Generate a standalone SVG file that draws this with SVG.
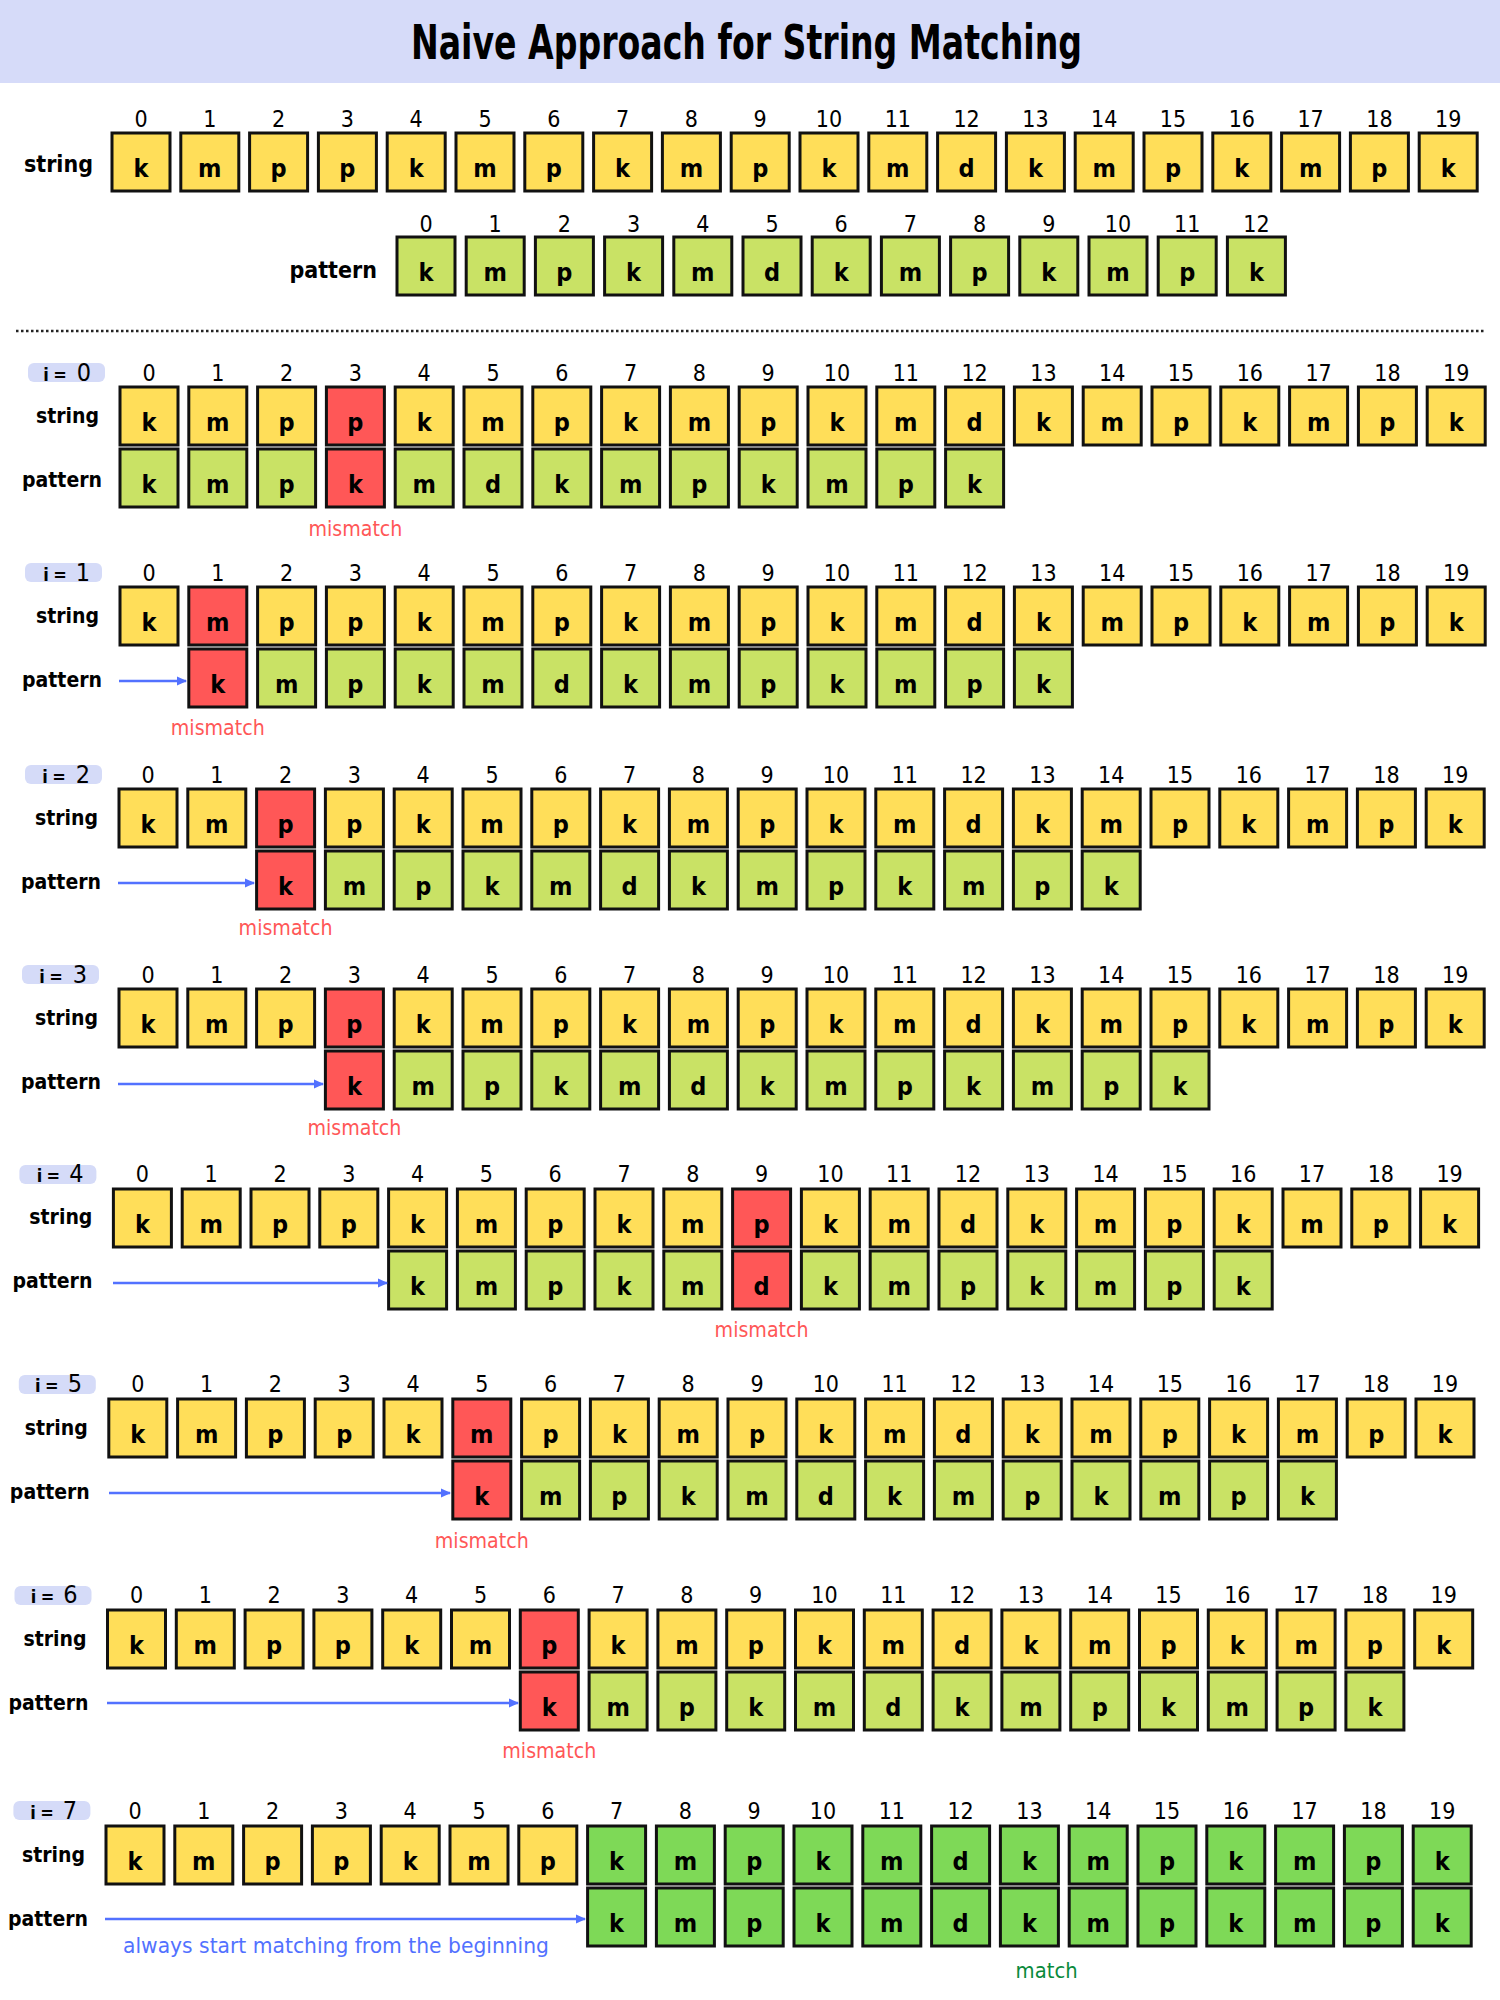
<svg xmlns="http://www.w3.org/2000/svg" width="1500" height="2000" viewBox="0 0 1500 2000">
<style>
text{font-family:"DejaVu Sans Condensed","DejaVu Sans",sans-serif;fill:#000}
.row rect{stroke:#111;stroke-width:3}
.y{fill:#ffde59}.l{fill:#c9e265}.r{fill:#ff5757}.g{fill:#7ed957}
.row text{font-weight:bold;font-size:25px;text-anchor:middle}
.n text{font-size:23px;text-anchor:middle}
.lb{font-weight:bold;font-size:21px;text-anchor:end}
.tlb{font-weight:bold;font-size:23px;text-anchor:end}
.mm{font-size:22px;text-anchor:middle;fill:#ff5757}
.hl{fill:#d5dbf8}
.il{text-anchor:middle}
.ib{font-size:18px;font-weight:bold}
.id{font-size:25px}
.arr{stroke:#5271ff;stroke-width:2.5;fill:none}
</style>
<defs>
<marker id="ah" markerUnits="userSpaceOnUse" markerWidth="10" markerHeight="10" refX="9" refY="5" orient="auto"><path d="M0,0.5 L10,5 L0,9.5 z" fill="#5271ff"/></marker>
</defs>
<rect x="0" y="0" width="1500" height="2000" fill="#ffffff"/>
<g id="title">
<rect x="0" y="0" width="1500" height="83" fill="#d6dbf9"/>
<text x="746.5" y="59" font-size="48" font-weight="bold" text-anchor="middle" textLength="671" lengthAdjust="spacingAndGlyphs">Naive Approach for String Matching</text>
</g>

<g id="top-string" transform="translate(112,118)">
<text class="tlb" x="-19" y="54">string</text>
<g class="n"><text x="29" y="9">0</text><text x="97.8" y="9">1</text><text x="166.6" y="9">2</text><text x="235.4" y="9">3</text><text x="304.2" y="9">4</text><text x="373" y="9">5</text><text x="441.8" y="9">6</text><text x="510.6" y="9">7</text><text x="579.4" y="9">8</text><text x="648.2" y="9">9</text><text x="717" y="9">10</text><text x="785.8" y="9">11</text><text x="854.6" y="9">12</text><text x="923.4" y="9">13</text><text x="992.2" y="9">14</text><text x="1061" y="9">15</text><text x="1129.8" y="9">16</text><text x="1198.6" y="9">17</text><text x="1267.4" y="9">18</text><text x="1336.2" y="9">19</text></g>
<g class="row">
<g id="ts-0"><rect class="y" x="0" y="15" width="58" height="58"/><text x="29" y="59">k</text></g>
<g id="ts-1"><rect class="y" x="68.8" y="15" width="58" height="58"/><text x="97.8" y="59">m</text></g>
<g id="ts-2"><rect class="y" x="137.6" y="15" width="58" height="58"/><text x="166.6" y="59">p</text></g>
<g id="ts-3"><rect class="y" x="206.4" y="15" width="58" height="58"/><text x="235.4" y="59">p</text></g>
<g id="ts-4"><rect class="y" x="275.2" y="15" width="58" height="58"/><text x="304.2" y="59">k</text></g>
<g id="ts-5"><rect class="y" x="344" y="15" width="58" height="58"/><text x="373" y="59">m</text></g>
<g id="ts-6"><rect class="y" x="412.8" y="15" width="58" height="58"/><text x="441.8" y="59">p</text></g>
<g id="ts-7"><rect class="y" x="481.6" y="15" width="58" height="58"/><text x="510.6" y="59">k</text></g>
<g id="ts-8"><rect class="y" x="550.4" y="15" width="58" height="58"/><text x="579.4" y="59">m</text></g>
<g id="ts-9"><rect class="y" x="619.2" y="15" width="58" height="58"/><text x="648.2" y="59">p</text></g>
<g id="ts-10"><rect class="y" x="688" y="15" width="58" height="58"/><text x="717" y="59">k</text></g>
<g id="ts-11"><rect class="y" x="756.8" y="15" width="58" height="58"/><text x="785.8" y="59">m</text></g>
<g id="ts-12"><rect class="y" x="825.6" y="15" width="58" height="58"/><text x="854.6" y="59">d</text></g>
<g id="ts-13"><rect class="y" x="894.4" y="15" width="58" height="58"/><text x="923.4" y="59">k</text></g>
<g id="ts-14"><rect class="y" x="963.2" y="15" width="58" height="58"/><text x="992.2" y="59">m</text></g>
<g id="ts-15"><rect class="y" x="1032" y="15" width="58" height="58"/><text x="1061" y="59">p</text></g>
<g id="ts-16"><rect class="y" x="1100.8" y="15" width="58" height="58"/><text x="1129.8" y="59">k</text></g>
<g id="ts-17"><rect class="y" x="1169.6" y="15" width="58" height="58"/><text x="1198.6" y="59">m</text></g>
<g id="ts-18"><rect class="y" x="1238.4" y="15" width="58" height="58"/><text x="1267.4" y="59">p</text></g>
<g id="ts-19"><rect class="y" x="1307.2" y="15" width="58" height="58"/><text x="1336.2" y="59">k</text></g>
</g>
</g>

<g id="top-pattern" transform="translate(397,223)">
<text class="tlb" x="-20" y="55">pattern</text>
<g class="n"><text x="29" y="9">0</text><text x="98.2" y="9">1</text><text x="167.4" y="9">2</text><text x="236.6" y="9">3</text><text x="305.8" y="9">4</text><text x="375" y="9">5</text><text x="444.2" y="9">6</text><text x="513.4" y="9">7</text><text x="582.6" y="9">8</text><text x="651.8" y="9">9</text><text x="721" y="9">10</text><text x="790.2" y="9">11</text><text x="859.4" y="9">12</text></g>
<g class="row">
<g id="tp-0"><rect class="l" x="0" y="14" width="58" height="58"/><text x="29" y="58">k</text></g>
<g id="tp-1"><rect class="l" x="69.2" y="14" width="58" height="58"/><text x="98.2" y="58">m</text></g>
<g id="tp-2"><rect class="l" x="138.4" y="14" width="58" height="58"/><text x="167.4" y="58">p</text></g>
<g id="tp-3"><rect class="l" x="207.6" y="14" width="58" height="58"/><text x="236.6" y="58">k</text></g>
<g id="tp-4"><rect class="l" x="276.8" y="14" width="58" height="58"/><text x="305.8" y="58">m</text></g>
<g id="tp-5"><rect class="l" x="346" y="14" width="58" height="58"/><text x="375" y="58">d</text></g>
<g id="tp-6"><rect class="l" x="415.2" y="14" width="58" height="58"/><text x="444.2" y="58">k</text></g>
<g id="tp-7"><rect class="l" x="484.4" y="14" width="58" height="58"/><text x="513.4" y="58">m</text></g>
<g id="tp-8"><rect class="l" x="553.6" y="14" width="58" height="58"/><text x="582.6" y="58">p</text></g>
<g id="tp-9"><rect class="l" x="622.8" y="14" width="58" height="58"/><text x="651.8" y="58">k</text></g>
<g id="tp-10"><rect class="l" x="692" y="14" width="58" height="58"/><text x="721" y="58">m</text></g>
<g id="tp-11"><rect class="l" x="761.2" y="14" width="58" height="58"/><text x="790.2" y="58">p</text></g>
<g id="tp-12"><rect class="l" x="830.4" y="14" width="58" height="58"/><text x="859.4" y="58">k</text></g>
</g>
</g>

<line id="divider" x1="16" y1="331" x2="1484" y2="331" stroke="#222" stroke-width="2.5" stroke-dasharray="2.5 2.5"/>

<!-- step 0 -->
<g id="step0" transform="translate(120,372)">
<rect class="hl" x="-92" y="-9" width="77" height="19" rx="6"/>
<text class="il" y="9"><tspan class="ib" x="-74">i</tspan><tspan class="ib" x="-60">=</tspan><tspan class="id" x="-36">0</tspan></text>
<text class="lb" x="-21" y="51">string</text>
<text class="lb" x="-18" y="115">pattern</text>
<g class="n"><text x="29" y="9">0</text><text x="97.8" y="9">1</text><text x="166.6" y="9">2</text><text x="235.4" y="9">3</text><text x="304.2" y="9">4</text><text x="373" y="9">5</text><text x="441.8" y="9">6</text><text x="510.6" y="9">7</text><text x="579.4" y="9">8</text><text x="648.2" y="9">9</text><text x="717" y="9">10</text><text x="785.8" y="9">11</text><text x="854.6" y="9">12</text><text x="923.4" y="9">13</text><text x="992.2" y="9">14</text><text x="1061" y="9">15</text><text x="1129.8" y="9">16</text><text x="1198.6" y="9">17</text><text x="1267.4" y="9">18</text><text x="1336.2" y="9">19</text></g>
<g class="row" id="step0-string">
<g id="s0-0"><rect class="y" x="0" y="15" width="58" height="58"/><text x="29" y="59">k</text></g>
<g id="s0-1"><rect class="y" x="68.8" y="15" width="58" height="58"/><text x="97.8" y="59">m</text></g>
<g id="s0-2"><rect class="y" x="137.6" y="15" width="58" height="58"/><text x="166.6" y="59">p</text></g>
<g id="s0-3"><rect class="r" x="206.4" y="15" width="58" height="58"/><text x="235.4" y="59">p</text></g>
<g id="s0-4"><rect class="y" x="275.2" y="15" width="58" height="58"/><text x="304.2" y="59">k</text></g>
<g id="s0-5"><rect class="y" x="344" y="15" width="58" height="58"/><text x="373" y="59">m</text></g>
<g id="s0-6"><rect class="y" x="412.8" y="15" width="58" height="58"/><text x="441.8" y="59">p</text></g>
<g id="s0-7"><rect class="y" x="481.6" y="15" width="58" height="58"/><text x="510.6" y="59">k</text></g>
<g id="s0-8"><rect class="y" x="550.4" y="15" width="58" height="58"/><text x="579.4" y="59">m</text></g>
<g id="s0-9"><rect class="y" x="619.2" y="15" width="58" height="58"/><text x="648.2" y="59">p</text></g>
<g id="s0-10"><rect class="y" x="688" y="15" width="58" height="58"/><text x="717" y="59">k</text></g>
<g id="s0-11"><rect class="y" x="756.8" y="15" width="58" height="58"/><text x="785.8" y="59">m</text></g>
<g id="s0-12"><rect class="y" x="825.6" y="15" width="58" height="58"/><text x="854.6" y="59">d</text></g>
<g id="s0-13"><rect class="y" x="894.4" y="15" width="58" height="58"/><text x="923.4" y="59">k</text></g>
<g id="s0-14"><rect class="y" x="963.2" y="15" width="58" height="58"/><text x="992.2" y="59">m</text></g>
<g id="s0-15"><rect class="y" x="1032" y="15" width="58" height="58"/><text x="1061" y="59">p</text></g>
<g id="s0-16"><rect class="y" x="1100.8" y="15" width="58" height="58"/><text x="1129.8" y="59">k</text></g>
<g id="s0-17"><rect class="y" x="1169.6" y="15" width="58" height="58"/><text x="1198.6" y="59">m</text></g>
<g id="s0-18"><rect class="y" x="1238.4" y="15" width="58" height="58"/><text x="1267.4" y="59">p</text></g>
<g id="s0-19"><rect class="y" x="1307.2" y="15" width="58" height="58"/><text x="1336.2" y="59">k</text></g>
</g>
<g class="row" id="step0-pattern">
<g id="p0-0"><rect class="l" x="0" y="77" width="58" height="58"/><text x="29" y="121">k</text></g>
<g id="p0-1"><rect class="l" x="68.8" y="77" width="58" height="58"/><text x="97.8" y="121">m</text></g>
<g id="p0-2"><rect class="l" x="137.6" y="77" width="58" height="58"/><text x="166.6" y="121">p</text></g>
<g id="p0-3"><rect class="r" x="206.4" y="77" width="58" height="58"/><text x="235.4" y="121">k</text></g>
<g id="p0-4"><rect class="l" x="275.2" y="77" width="58" height="58"/><text x="304.2" y="121">m</text></g>
<g id="p0-5"><rect class="l" x="344" y="77" width="58" height="58"/><text x="373" y="121">d</text></g>
<g id="p0-6"><rect class="l" x="412.8" y="77" width="58" height="58"/><text x="441.8" y="121">k</text></g>
<g id="p0-7"><rect class="l" x="481.6" y="77" width="58" height="58"/><text x="510.6" y="121">m</text></g>
<g id="p0-8"><rect class="l" x="550.4" y="77" width="58" height="58"/><text x="579.4" y="121">p</text></g>
<g id="p0-9"><rect class="l" x="619.2" y="77" width="58" height="58"/><text x="648.2" y="121">k</text></g>
<g id="p0-10"><rect class="l" x="688" y="77" width="58" height="58"/><text x="717" y="121">m</text></g>
<g id="p0-11"><rect class="l" x="756.8" y="77" width="58" height="58"/><text x="785.8" y="121">p</text></g>
<g id="p0-12"><rect class="l" x="825.6" y="77" width="58" height="58"/><text x="854.6" y="121">k</text></g>
</g>
<text class="mm" x="235.4" y="164" textLength="94" lengthAdjust="spacingAndGlyphs">mismatch</text>
</g>

<!-- step 1 -->
<g id="step1" transform="translate(120,572)">
<rect class="hl" x="-95" y="-9" width="77" height="19" rx="6"/>
<text class="il" y="9"><tspan class="ib" x="-74">i</tspan><tspan class="ib" x="-60">=</tspan><tspan class="id" x="-37">1</tspan></text>
<text class="lb" x="-21" y="51">string</text>
<text class="lb" x="-18" y="115">pattern</text>
<g class="n"><text x="29" y="9">0</text><text x="97.8" y="9">1</text><text x="166.6" y="9">2</text><text x="235.4" y="9">3</text><text x="304.2" y="9">4</text><text x="373" y="9">5</text><text x="441.8" y="9">6</text><text x="510.6" y="9">7</text><text x="579.4" y="9">8</text><text x="648.2" y="9">9</text><text x="717" y="9">10</text><text x="785.8" y="9">11</text><text x="854.6" y="9">12</text><text x="923.4" y="9">13</text><text x="992.2" y="9">14</text><text x="1061" y="9">15</text><text x="1129.8" y="9">16</text><text x="1198.6" y="9">17</text><text x="1267.4" y="9">18</text><text x="1336.2" y="9">19</text></g>
<g class="row" id="step1-string">
<g id="s1-0"><rect class="y" x="0" y="15" width="58" height="58"/><text x="29" y="59">k</text></g>
<g id="s1-1"><rect class="r" x="68.8" y="15" width="58" height="58"/><text x="97.8" y="59">m</text></g>
<g id="s1-2"><rect class="y" x="137.6" y="15" width="58" height="58"/><text x="166.6" y="59">p</text></g>
<g id="s1-3"><rect class="y" x="206.4" y="15" width="58" height="58"/><text x="235.4" y="59">p</text></g>
<g id="s1-4"><rect class="y" x="275.2" y="15" width="58" height="58"/><text x="304.2" y="59">k</text></g>
<g id="s1-5"><rect class="y" x="344" y="15" width="58" height="58"/><text x="373" y="59">m</text></g>
<g id="s1-6"><rect class="y" x="412.8" y="15" width="58" height="58"/><text x="441.8" y="59">p</text></g>
<g id="s1-7"><rect class="y" x="481.6" y="15" width="58" height="58"/><text x="510.6" y="59">k</text></g>
<g id="s1-8"><rect class="y" x="550.4" y="15" width="58" height="58"/><text x="579.4" y="59">m</text></g>
<g id="s1-9"><rect class="y" x="619.2" y="15" width="58" height="58"/><text x="648.2" y="59">p</text></g>
<g id="s1-10"><rect class="y" x="688" y="15" width="58" height="58"/><text x="717" y="59">k</text></g>
<g id="s1-11"><rect class="y" x="756.8" y="15" width="58" height="58"/><text x="785.8" y="59">m</text></g>
<g id="s1-12"><rect class="y" x="825.6" y="15" width="58" height="58"/><text x="854.6" y="59">d</text></g>
<g id="s1-13"><rect class="y" x="894.4" y="15" width="58" height="58"/><text x="923.4" y="59">k</text></g>
<g id="s1-14"><rect class="y" x="963.2" y="15" width="58" height="58"/><text x="992.2" y="59">m</text></g>
<g id="s1-15"><rect class="y" x="1032" y="15" width="58" height="58"/><text x="1061" y="59">p</text></g>
<g id="s1-16"><rect class="y" x="1100.8" y="15" width="58" height="58"/><text x="1129.8" y="59">k</text></g>
<g id="s1-17"><rect class="y" x="1169.6" y="15" width="58" height="58"/><text x="1198.6" y="59">m</text></g>
<g id="s1-18"><rect class="y" x="1238.4" y="15" width="58" height="58"/><text x="1267.4" y="59">p</text></g>
<g id="s1-19"><rect class="y" x="1307.2" y="15" width="58" height="58"/><text x="1336.2" y="59">k</text></g>
</g>
<g class="row" id="step1-pattern">
<g id="p1-1"><rect class="r" x="68.8" y="77" width="58" height="58"/><text x="97.8" y="121">k</text></g>
<g id="p1-2"><rect class="l" x="137.6" y="77" width="58" height="58"/><text x="166.6" y="121">m</text></g>
<g id="p1-3"><rect class="l" x="206.4" y="77" width="58" height="58"/><text x="235.4" y="121">p</text></g>
<g id="p1-4"><rect class="l" x="275.2" y="77" width="58" height="58"/><text x="304.2" y="121">k</text></g>
<g id="p1-5"><rect class="l" x="344" y="77" width="58" height="58"/><text x="373" y="121">m</text></g>
<g id="p1-6"><rect class="l" x="412.8" y="77" width="58" height="58"/><text x="441.8" y="121">d</text></g>
<g id="p1-7"><rect class="l" x="481.6" y="77" width="58" height="58"/><text x="510.6" y="121">k</text></g>
<g id="p1-8"><rect class="l" x="550.4" y="77" width="58" height="58"/><text x="579.4" y="121">m</text></g>
<g id="p1-9"><rect class="l" x="619.2" y="77" width="58" height="58"/><text x="648.2" y="121">p</text></g>
<g id="p1-10"><rect class="l" x="688" y="77" width="58" height="58"/><text x="717" y="121">k</text></g>
<g id="p1-11"><rect class="l" x="756.8" y="77" width="58" height="58"/><text x="785.8" y="121">m</text></g>
<g id="p1-12"><rect class="l" x="825.6" y="77" width="58" height="58"/><text x="854.6" y="121">p</text></g>
<g id="p1-13"><rect class="l" x="894.4" y="77" width="58" height="58"/><text x="923.4" y="121">k</text></g>
</g>
<text class="mm" x="97.8" y="163" textLength="94" lengthAdjust="spacingAndGlyphs">mismatch</text>
</g>

<!-- step 2 -->
<g id="step2" transform="translate(119,774)">
<rect class="hl" x="-94" y="-9" width="77" height="19" rx="6"/>
<text class="il" y="9"><tspan class="ib" x="-74">i</tspan><tspan class="ib" x="-60">=</tspan><tspan class="id" x="-36">2</tspan></text>
<text class="lb" x="-21" y="51">string</text>
<text class="lb" x="-18" y="115">pattern</text>
<g class="n"><text x="29" y="9">0</text><text x="97.8" y="9">1</text><text x="166.6" y="9">2</text><text x="235.4" y="9">3</text><text x="304.2" y="9">4</text><text x="373" y="9">5</text><text x="441.8" y="9">6</text><text x="510.6" y="9">7</text><text x="579.4" y="9">8</text><text x="648.2" y="9">9</text><text x="717" y="9">10</text><text x="785.8" y="9">11</text><text x="854.6" y="9">12</text><text x="923.4" y="9">13</text><text x="992.2" y="9">14</text><text x="1061" y="9">15</text><text x="1129.8" y="9">16</text><text x="1198.6" y="9">17</text><text x="1267.4" y="9">18</text><text x="1336.2" y="9">19</text></g>
<g class="row" id="step2-string">
<g id="s2-0"><rect class="y" x="0" y="15" width="58" height="58"/><text x="29" y="59">k</text></g>
<g id="s2-1"><rect class="y" x="68.8" y="15" width="58" height="58"/><text x="97.8" y="59">m</text></g>
<g id="s2-2"><rect class="r" x="137.6" y="15" width="58" height="58"/><text x="166.6" y="59">p</text></g>
<g id="s2-3"><rect class="y" x="206.4" y="15" width="58" height="58"/><text x="235.4" y="59">p</text></g>
<g id="s2-4"><rect class="y" x="275.2" y="15" width="58" height="58"/><text x="304.2" y="59">k</text></g>
<g id="s2-5"><rect class="y" x="344" y="15" width="58" height="58"/><text x="373" y="59">m</text></g>
<g id="s2-6"><rect class="y" x="412.8" y="15" width="58" height="58"/><text x="441.8" y="59">p</text></g>
<g id="s2-7"><rect class="y" x="481.6" y="15" width="58" height="58"/><text x="510.6" y="59">k</text></g>
<g id="s2-8"><rect class="y" x="550.4" y="15" width="58" height="58"/><text x="579.4" y="59">m</text></g>
<g id="s2-9"><rect class="y" x="619.2" y="15" width="58" height="58"/><text x="648.2" y="59">p</text></g>
<g id="s2-10"><rect class="y" x="688" y="15" width="58" height="58"/><text x="717" y="59">k</text></g>
<g id="s2-11"><rect class="y" x="756.8" y="15" width="58" height="58"/><text x="785.8" y="59">m</text></g>
<g id="s2-12"><rect class="y" x="825.6" y="15" width="58" height="58"/><text x="854.6" y="59">d</text></g>
<g id="s2-13"><rect class="y" x="894.4" y="15" width="58" height="58"/><text x="923.4" y="59">k</text></g>
<g id="s2-14"><rect class="y" x="963.2" y="15" width="58" height="58"/><text x="992.2" y="59">m</text></g>
<g id="s2-15"><rect class="y" x="1032" y="15" width="58" height="58"/><text x="1061" y="59">p</text></g>
<g id="s2-16"><rect class="y" x="1100.8" y="15" width="58" height="58"/><text x="1129.8" y="59">k</text></g>
<g id="s2-17"><rect class="y" x="1169.6" y="15" width="58" height="58"/><text x="1198.6" y="59">m</text></g>
<g id="s2-18"><rect class="y" x="1238.4" y="15" width="58" height="58"/><text x="1267.4" y="59">p</text></g>
<g id="s2-19"><rect class="y" x="1307.2" y="15" width="58" height="58"/><text x="1336.2" y="59">k</text></g>
</g>
<g class="row" id="step2-pattern">
<g id="p2-2"><rect class="r" x="137.6" y="77" width="58" height="58"/><text x="166.6" y="121">k</text></g>
<g id="p2-3"><rect class="l" x="206.4" y="77" width="58" height="58"/><text x="235.4" y="121">m</text></g>
<g id="p2-4"><rect class="l" x="275.2" y="77" width="58" height="58"/><text x="304.2" y="121">p</text></g>
<g id="p2-5"><rect class="l" x="344" y="77" width="58" height="58"/><text x="373" y="121">k</text></g>
<g id="p2-6"><rect class="l" x="412.8" y="77" width="58" height="58"/><text x="441.8" y="121">m</text></g>
<g id="p2-7"><rect class="l" x="481.6" y="77" width="58" height="58"/><text x="510.6" y="121">d</text></g>
<g id="p2-8"><rect class="l" x="550.4" y="77" width="58" height="58"/><text x="579.4" y="121">k</text></g>
<g id="p2-9"><rect class="l" x="619.2" y="77" width="58" height="58"/><text x="648.2" y="121">m</text></g>
<g id="p2-10"><rect class="l" x="688" y="77" width="58" height="58"/><text x="717" y="121">p</text></g>
<g id="p2-11"><rect class="l" x="756.8" y="77" width="58" height="58"/><text x="785.8" y="121">k</text></g>
<g id="p2-12"><rect class="l" x="825.6" y="77" width="58" height="58"/><text x="854.6" y="121">m</text></g>
<g id="p2-13"><rect class="l" x="894.4" y="77" width="58" height="58"/><text x="923.4" y="121">p</text></g>
<g id="p2-14"><rect class="l" x="963.2" y="77" width="58" height="58"/><text x="992.2" y="121">k</text></g>
</g>
<text class="mm" x="166.6" y="161" textLength="94" lengthAdjust="spacingAndGlyphs">mismatch</text>
</g>

<!-- step 3 -->
<g id="step3" transform="translate(119,974)">
<rect class="hl" x="-97" y="-9" width="77" height="19" rx="6"/>
<text class="il" y="9"><tspan class="ib" x="-77">i</tspan><tspan class="ib" x="-63">=</tspan><tspan class="id" x="-39">3</tspan></text>
<text class="lb" x="-21" y="51">string</text>
<text class="lb" x="-18" y="115">pattern</text>
<g class="n"><text x="29" y="9">0</text><text x="97.8" y="9">1</text><text x="166.6" y="9">2</text><text x="235.4" y="9">3</text><text x="304.2" y="9">4</text><text x="373" y="9">5</text><text x="441.8" y="9">6</text><text x="510.6" y="9">7</text><text x="579.4" y="9">8</text><text x="648.2" y="9">9</text><text x="717" y="9">10</text><text x="785.8" y="9">11</text><text x="854.6" y="9">12</text><text x="923.4" y="9">13</text><text x="992.2" y="9">14</text><text x="1061" y="9">15</text><text x="1129.8" y="9">16</text><text x="1198.6" y="9">17</text><text x="1267.4" y="9">18</text><text x="1336.2" y="9">19</text></g>
<g class="row" id="step3-string">
<g id="s3-0"><rect class="y" x="0" y="15" width="58" height="58"/><text x="29" y="59">k</text></g>
<g id="s3-1"><rect class="y" x="68.8" y="15" width="58" height="58"/><text x="97.8" y="59">m</text></g>
<g id="s3-2"><rect class="y" x="137.6" y="15" width="58" height="58"/><text x="166.6" y="59">p</text></g>
<g id="s3-3"><rect class="r" x="206.4" y="15" width="58" height="58"/><text x="235.4" y="59">p</text></g>
<g id="s3-4"><rect class="y" x="275.2" y="15" width="58" height="58"/><text x="304.2" y="59">k</text></g>
<g id="s3-5"><rect class="y" x="344" y="15" width="58" height="58"/><text x="373" y="59">m</text></g>
<g id="s3-6"><rect class="y" x="412.8" y="15" width="58" height="58"/><text x="441.8" y="59">p</text></g>
<g id="s3-7"><rect class="y" x="481.6" y="15" width="58" height="58"/><text x="510.6" y="59">k</text></g>
<g id="s3-8"><rect class="y" x="550.4" y="15" width="58" height="58"/><text x="579.4" y="59">m</text></g>
<g id="s3-9"><rect class="y" x="619.2" y="15" width="58" height="58"/><text x="648.2" y="59">p</text></g>
<g id="s3-10"><rect class="y" x="688" y="15" width="58" height="58"/><text x="717" y="59">k</text></g>
<g id="s3-11"><rect class="y" x="756.8" y="15" width="58" height="58"/><text x="785.8" y="59">m</text></g>
<g id="s3-12"><rect class="y" x="825.6" y="15" width="58" height="58"/><text x="854.6" y="59">d</text></g>
<g id="s3-13"><rect class="y" x="894.4" y="15" width="58" height="58"/><text x="923.4" y="59">k</text></g>
<g id="s3-14"><rect class="y" x="963.2" y="15" width="58" height="58"/><text x="992.2" y="59">m</text></g>
<g id="s3-15"><rect class="y" x="1032" y="15" width="58" height="58"/><text x="1061" y="59">p</text></g>
<g id="s3-16"><rect class="y" x="1100.8" y="15" width="58" height="58"/><text x="1129.8" y="59">k</text></g>
<g id="s3-17"><rect class="y" x="1169.6" y="15" width="58" height="58"/><text x="1198.6" y="59">m</text></g>
<g id="s3-18"><rect class="y" x="1238.4" y="15" width="58" height="58"/><text x="1267.4" y="59">p</text></g>
<g id="s3-19"><rect class="y" x="1307.2" y="15" width="58" height="58"/><text x="1336.2" y="59">k</text></g>
</g>
<g class="row" id="step3-pattern">
<g id="p3-3"><rect class="r" x="206.4" y="77" width="58" height="58"/><text x="235.4" y="121">k</text></g>
<g id="p3-4"><rect class="l" x="275.2" y="77" width="58" height="58"/><text x="304.2" y="121">m</text></g>
<g id="p3-5"><rect class="l" x="344" y="77" width="58" height="58"/><text x="373" y="121">p</text></g>
<g id="p3-6"><rect class="l" x="412.8" y="77" width="58" height="58"/><text x="441.8" y="121">k</text></g>
<g id="p3-7"><rect class="l" x="481.6" y="77" width="58" height="58"/><text x="510.6" y="121">m</text></g>
<g id="p3-8"><rect class="l" x="550.4" y="77" width="58" height="58"/><text x="579.4" y="121">d</text></g>
<g id="p3-9"><rect class="l" x="619.2" y="77" width="58" height="58"/><text x="648.2" y="121">k</text></g>
<g id="p3-10"><rect class="l" x="688" y="77" width="58" height="58"/><text x="717" y="121">m</text></g>
<g id="p3-11"><rect class="l" x="756.8" y="77" width="58" height="58"/><text x="785.8" y="121">p</text></g>
<g id="p3-12"><rect class="l" x="825.6" y="77" width="58" height="58"/><text x="854.6" y="121">k</text></g>
<g id="p3-13"><rect class="l" x="894.4" y="77" width="58" height="58"/><text x="923.4" y="121">m</text></g>
<g id="p3-14"><rect class="l" x="963.2" y="77" width="58" height="58"/><text x="992.2" y="121">p</text></g>
<g id="p3-15"><rect class="l" x="1032" y="77" width="58" height="58"/><text x="1061" y="121">k</text></g>
</g>
<text class="mm" x="235.4" y="161" textLength="94" lengthAdjust="spacingAndGlyphs">mismatch</text>
</g>

<!-- step 4 -->
<g id="step4" transform="translate(113.4,1173)">
<rect class="hl" x="-94" y="-8" width="77" height="19" rx="6"/>
<text class="il" y="9"><tspan class="ib" x="-74">i</tspan><tspan class="ib" x="-60">=</tspan><tspan class="id" x="-37">4</tspan></text>
<text class="lb" x="-21" y="51">string</text>
<text class="lb" x="-21" y="115">pattern</text>
<g class="n"><text x="29" y="9">0</text><text x="97.8" y="9">1</text><text x="166.6" y="9">2</text><text x="235.4" y="9">3</text><text x="304.2" y="9">4</text><text x="373" y="9">5</text><text x="441.8" y="9">6</text><text x="510.6" y="9">7</text><text x="579.4" y="9">8</text><text x="648.2" y="9">9</text><text x="717" y="9">10</text><text x="785.8" y="9">11</text><text x="854.6" y="9">12</text><text x="923.4" y="9">13</text><text x="992.2" y="9">14</text><text x="1061" y="9">15</text><text x="1129.8" y="9">16</text><text x="1198.6" y="9">17</text><text x="1267.4" y="9">18</text><text x="1336.2" y="9">19</text></g>
<g class="row" id="step4-string">
<g id="s4-0"><rect class="y" x="0" y="16" width="58" height="58"/><text x="29" y="60">k</text></g>
<g id="s4-1"><rect class="y" x="68.8" y="16" width="58" height="58"/><text x="97.8" y="60">m</text></g>
<g id="s4-2"><rect class="y" x="137.6" y="16" width="58" height="58"/><text x="166.6" y="60">p</text></g>
<g id="s4-3"><rect class="y" x="206.4" y="16" width="58" height="58"/><text x="235.4" y="60">p</text></g>
<g id="s4-4"><rect class="y" x="275.2" y="16" width="58" height="58"/><text x="304.2" y="60">k</text></g>
<g id="s4-5"><rect class="y" x="344" y="16" width="58" height="58"/><text x="373" y="60">m</text></g>
<g id="s4-6"><rect class="y" x="412.8" y="16" width="58" height="58"/><text x="441.8" y="60">p</text></g>
<g id="s4-7"><rect class="y" x="481.6" y="16" width="58" height="58"/><text x="510.6" y="60">k</text></g>
<g id="s4-8"><rect class="y" x="550.4" y="16" width="58" height="58"/><text x="579.4" y="60">m</text></g>
<g id="s4-9"><rect class="r" x="619.2" y="16" width="58" height="58"/><text x="648.2" y="60">p</text></g>
<g id="s4-10"><rect class="y" x="688" y="16" width="58" height="58"/><text x="717" y="60">k</text></g>
<g id="s4-11"><rect class="y" x="756.8" y="16" width="58" height="58"/><text x="785.8" y="60">m</text></g>
<g id="s4-12"><rect class="y" x="825.6" y="16" width="58" height="58"/><text x="854.6" y="60">d</text></g>
<g id="s4-13"><rect class="y" x="894.4" y="16" width="58" height="58"/><text x="923.4" y="60">k</text></g>
<g id="s4-14"><rect class="y" x="963.2" y="16" width="58" height="58"/><text x="992.2" y="60">m</text></g>
<g id="s4-15"><rect class="y" x="1032" y="16" width="58" height="58"/><text x="1061" y="60">p</text></g>
<g id="s4-16"><rect class="y" x="1100.8" y="16" width="58" height="58"/><text x="1129.8" y="60">k</text></g>
<g id="s4-17"><rect class="y" x="1169.6" y="16" width="58" height="58"/><text x="1198.6" y="60">m</text></g>
<g id="s4-18"><rect class="y" x="1238.4" y="16" width="58" height="58"/><text x="1267.4" y="60">p</text></g>
<g id="s4-19"><rect class="y" x="1307.2" y="16" width="58" height="58"/><text x="1336.2" y="60">k</text></g>
</g>
<g class="row" id="step4-pattern">
<g id="p4-4"><rect class="l" x="275.2" y="78" width="58" height="58"/><text x="304.2" y="122">k</text></g>
<g id="p4-5"><rect class="l" x="344" y="78" width="58" height="58"/><text x="373" y="122">m</text></g>
<g id="p4-6"><rect class="l" x="412.8" y="78" width="58" height="58"/><text x="441.8" y="122">p</text></g>
<g id="p4-7"><rect class="l" x="481.6" y="78" width="58" height="58"/><text x="510.6" y="122">k</text></g>
<g id="p4-8"><rect class="l" x="550.4" y="78" width="58" height="58"/><text x="579.4" y="122">m</text></g>
<g id="p4-9"><rect class="r" x="619.2" y="78" width="58" height="58"/><text x="648.2" y="122">d</text></g>
<g id="p4-10"><rect class="l" x="688" y="78" width="58" height="58"/><text x="717" y="122">k</text></g>
<g id="p4-11"><rect class="l" x="756.8" y="78" width="58" height="58"/><text x="785.8" y="122">m</text></g>
<g id="p4-12"><rect class="l" x="825.6" y="78" width="58" height="58"/><text x="854.6" y="122">p</text></g>
<g id="p4-13"><rect class="l" x="894.4" y="78" width="58" height="58"/><text x="923.4" y="122">k</text></g>
<g id="p4-14"><rect class="l" x="963.2" y="78" width="58" height="58"/><text x="992.2" y="122">m</text></g>
<g id="p4-15"><rect class="l" x="1032" y="78" width="58" height="58"/><text x="1061" y="122">p</text></g>
<g id="p4-16"><rect class="l" x="1100.8" y="78" width="58" height="58"/><text x="1129.8" y="122">k</text></g>
</g>
<text class="mm" x="648.2" y="164" textLength="94" lengthAdjust="spacingAndGlyphs">mismatch</text>
</g>

<!-- step 5 -->
<g id="step5" transform="translate(108.8,1383)">
<rect class="hl" x="-90" y="-8" width="77" height="19" rx="6"/>
<text class="il" y="9"><tspan class="ib" x="-71">i</tspan><tspan class="ib" x="-57">=</tspan><tspan class="id" x="-34">5</tspan></text>
<text class="lb" x="-21" y="52">string</text>
<text class="lb" x="-19" y="116">pattern</text>
<g class="n"><text x="29" y="9">0</text><text x="97.8" y="9">1</text><text x="166.6" y="9">2</text><text x="235.4" y="9">3</text><text x="304.2" y="9">4</text><text x="373" y="9">5</text><text x="441.8" y="9">6</text><text x="510.6" y="9">7</text><text x="579.4" y="9">8</text><text x="648.2" y="9">9</text><text x="717" y="9">10</text><text x="785.8" y="9">11</text><text x="854.6" y="9">12</text><text x="923.4" y="9">13</text><text x="992.2" y="9">14</text><text x="1061" y="9">15</text><text x="1129.8" y="9">16</text><text x="1198.6" y="9">17</text><text x="1267.4" y="9">18</text><text x="1336.2" y="9">19</text></g>
<g class="row" id="step5-string">
<g id="s5-0"><rect class="y" x="0" y="16" width="58" height="58"/><text x="29" y="60">k</text></g>
<g id="s5-1"><rect class="y" x="68.8" y="16" width="58" height="58"/><text x="97.8" y="60">m</text></g>
<g id="s5-2"><rect class="y" x="137.6" y="16" width="58" height="58"/><text x="166.6" y="60">p</text></g>
<g id="s5-3"><rect class="y" x="206.4" y="16" width="58" height="58"/><text x="235.4" y="60">p</text></g>
<g id="s5-4"><rect class="y" x="275.2" y="16" width="58" height="58"/><text x="304.2" y="60">k</text></g>
<g id="s5-5"><rect class="r" x="344" y="16" width="58" height="58"/><text x="373" y="60">m</text></g>
<g id="s5-6"><rect class="y" x="412.8" y="16" width="58" height="58"/><text x="441.8" y="60">p</text></g>
<g id="s5-7"><rect class="y" x="481.6" y="16" width="58" height="58"/><text x="510.6" y="60">k</text></g>
<g id="s5-8"><rect class="y" x="550.4" y="16" width="58" height="58"/><text x="579.4" y="60">m</text></g>
<g id="s5-9"><rect class="y" x="619.2" y="16" width="58" height="58"/><text x="648.2" y="60">p</text></g>
<g id="s5-10"><rect class="y" x="688" y="16" width="58" height="58"/><text x="717" y="60">k</text></g>
<g id="s5-11"><rect class="y" x="756.8" y="16" width="58" height="58"/><text x="785.8" y="60">m</text></g>
<g id="s5-12"><rect class="y" x="825.6" y="16" width="58" height="58"/><text x="854.6" y="60">d</text></g>
<g id="s5-13"><rect class="y" x="894.4" y="16" width="58" height="58"/><text x="923.4" y="60">k</text></g>
<g id="s5-14"><rect class="y" x="963.2" y="16" width="58" height="58"/><text x="992.2" y="60">m</text></g>
<g id="s5-15"><rect class="y" x="1032" y="16" width="58" height="58"/><text x="1061" y="60">p</text></g>
<g id="s5-16"><rect class="y" x="1100.8" y="16" width="58" height="58"/><text x="1129.8" y="60">k</text></g>
<g id="s5-17"><rect class="y" x="1169.6" y="16" width="58" height="58"/><text x="1198.6" y="60">m</text></g>
<g id="s5-18"><rect class="y" x="1238.4" y="16" width="58" height="58"/><text x="1267.4" y="60">p</text></g>
<g id="s5-19"><rect class="y" x="1307.2" y="16" width="58" height="58"/><text x="1336.2" y="60">k</text></g>
</g>
<g class="row" id="step5-pattern">
<g id="p5-5"><rect class="r" x="344" y="78" width="58" height="58"/><text x="373" y="122">k</text></g>
<g id="p5-6"><rect class="l" x="412.8" y="78" width="58" height="58"/><text x="441.8" y="122">m</text></g>
<g id="p5-7"><rect class="l" x="481.6" y="78" width="58" height="58"/><text x="510.6" y="122">p</text></g>
<g id="p5-8"><rect class="l" x="550.4" y="78" width="58" height="58"/><text x="579.4" y="122">k</text></g>
<g id="p5-9"><rect class="l" x="619.2" y="78" width="58" height="58"/><text x="648.2" y="122">m</text></g>
<g id="p5-10"><rect class="l" x="688" y="78" width="58" height="58"/><text x="717" y="122">d</text></g>
<g id="p5-11"><rect class="l" x="756.8" y="78" width="58" height="58"/><text x="785.8" y="122">k</text></g>
<g id="p5-12"><rect class="l" x="825.6" y="78" width="58" height="58"/><text x="854.6" y="122">m</text></g>
<g id="p5-13"><rect class="l" x="894.4" y="78" width="58" height="58"/><text x="923.4" y="122">p</text></g>
<g id="p5-14"><rect class="l" x="963.2" y="78" width="58" height="58"/><text x="992.2" y="122">k</text></g>
<g id="p5-15"><rect class="l" x="1032" y="78" width="58" height="58"/><text x="1061" y="122">m</text></g>
<g id="p5-16"><rect class="l" x="1100.8" y="78" width="58" height="58"/><text x="1129.8" y="122">p</text></g>
<g id="p5-17"><rect class="l" x="1169.6" y="78" width="58" height="58"/><text x="1198.6" y="122">k</text></g>
</g>
<text class="mm" x="373" y="165" textLength="94" lengthAdjust="spacingAndGlyphs">mismatch</text>
</g>

<!-- step 6 -->
<g id="step6" transform="translate(107.5,1594)">
<rect class="hl" x="-93" y="-8" width="77" height="19" rx="6"/>
<text class="il" y="9"><tspan class="ib" x="-74">i</tspan><tspan class="ib" x="-60">=</tspan><tspan class="id" x="-37">6</tspan></text>
<text class="lb" x="-21" y="52">string</text>
<text class="lb" x="-19" y="116">pattern</text>
<g class="n"><text x="29" y="9">0</text><text x="97.8" y="9">1</text><text x="166.6" y="9">2</text><text x="235.4" y="9">3</text><text x="304.2" y="9">4</text><text x="373" y="9">5</text><text x="441.8" y="9">6</text><text x="510.6" y="9">7</text><text x="579.4" y="9">8</text><text x="648.2" y="9">9</text><text x="717" y="9">10</text><text x="785.8" y="9">11</text><text x="854.6" y="9">12</text><text x="923.4" y="9">13</text><text x="992.2" y="9">14</text><text x="1061" y="9">15</text><text x="1129.8" y="9">16</text><text x="1198.6" y="9">17</text><text x="1267.4" y="9">18</text><text x="1336.2" y="9">19</text></g>
<g class="row" id="step6-string">
<g id="s6-0"><rect class="y" x="0" y="16" width="58" height="58"/><text x="29" y="60">k</text></g>
<g id="s6-1"><rect class="y" x="68.8" y="16" width="58" height="58"/><text x="97.8" y="60">m</text></g>
<g id="s6-2"><rect class="y" x="137.6" y="16" width="58" height="58"/><text x="166.6" y="60">p</text></g>
<g id="s6-3"><rect class="y" x="206.4" y="16" width="58" height="58"/><text x="235.4" y="60">p</text></g>
<g id="s6-4"><rect class="y" x="275.2" y="16" width="58" height="58"/><text x="304.2" y="60">k</text></g>
<g id="s6-5"><rect class="y" x="344" y="16" width="58" height="58"/><text x="373" y="60">m</text></g>
<g id="s6-6"><rect class="r" x="412.8" y="16" width="58" height="58"/><text x="441.8" y="60">p</text></g>
<g id="s6-7"><rect class="y" x="481.6" y="16" width="58" height="58"/><text x="510.6" y="60">k</text></g>
<g id="s6-8"><rect class="y" x="550.4" y="16" width="58" height="58"/><text x="579.4" y="60">m</text></g>
<g id="s6-9"><rect class="y" x="619.2" y="16" width="58" height="58"/><text x="648.2" y="60">p</text></g>
<g id="s6-10"><rect class="y" x="688" y="16" width="58" height="58"/><text x="717" y="60">k</text></g>
<g id="s6-11"><rect class="y" x="756.8" y="16" width="58" height="58"/><text x="785.8" y="60">m</text></g>
<g id="s6-12"><rect class="y" x="825.6" y="16" width="58" height="58"/><text x="854.6" y="60">d</text></g>
<g id="s6-13"><rect class="y" x="894.4" y="16" width="58" height="58"/><text x="923.4" y="60">k</text></g>
<g id="s6-14"><rect class="y" x="963.2" y="16" width="58" height="58"/><text x="992.2" y="60">m</text></g>
<g id="s6-15"><rect class="y" x="1032" y="16" width="58" height="58"/><text x="1061" y="60">p</text></g>
<g id="s6-16"><rect class="y" x="1100.8" y="16" width="58" height="58"/><text x="1129.8" y="60">k</text></g>
<g id="s6-17"><rect class="y" x="1169.6" y="16" width="58" height="58"/><text x="1198.6" y="60">m</text></g>
<g id="s6-18"><rect class="y" x="1238.4" y="16" width="58" height="58"/><text x="1267.4" y="60">p</text></g>
<g id="s6-19"><rect class="y" x="1307.2" y="16" width="58" height="58"/><text x="1336.2" y="60">k</text></g>
</g>
<g class="row" id="step6-pattern">
<g id="p6-6"><rect class="r" x="412.8" y="78" width="58" height="58"/><text x="441.8" y="122">k</text></g>
<g id="p6-7"><rect class="l" x="481.6" y="78" width="58" height="58"/><text x="510.6" y="122">m</text></g>
<g id="p6-8"><rect class="l" x="550.4" y="78" width="58" height="58"/><text x="579.4" y="122">p</text></g>
<g id="p6-9"><rect class="l" x="619.2" y="78" width="58" height="58"/><text x="648.2" y="122">k</text></g>
<g id="p6-10"><rect class="l" x="688" y="78" width="58" height="58"/><text x="717" y="122">m</text></g>
<g id="p6-11"><rect class="l" x="756.8" y="78" width="58" height="58"/><text x="785.8" y="122">d</text></g>
<g id="p6-12"><rect class="l" x="825.6" y="78" width="58" height="58"/><text x="854.6" y="122">k</text></g>
<g id="p6-13"><rect class="l" x="894.4" y="78" width="58" height="58"/><text x="923.4" y="122">m</text></g>
<g id="p6-14"><rect class="l" x="963.2" y="78" width="58" height="58"/><text x="992.2" y="122">p</text></g>
<g id="p6-15"><rect class="l" x="1032" y="78" width="58" height="58"/><text x="1061" y="122">k</text></g>
<g id="p6-16"><rect class="l" x="1100.8" y="78" width="58" height="58"/><text x="1129.8" y="122">m</text></g>
<g id="p6-17"><rect class="l" x="1169.6" y="78" width="58" height="58"/><text x="1198.6" y="122">p</text></g>
<g id="p6-18"><rect class="l" x="1238.4" y="78" width="58" height="58"/><text x="1267.4" y="122">k</text></g>
</g>
<text class="mm" x="441.8" y="164" textLength="94" lengthAdjust="spacingAndGlyphs">mismatch</text>
</g>

<!-- step 7 -->
<g id="step7" transform="translate(106,1810)">
<rect class="hl" x="-92.6" y="-9" width="77" height="19" rx="6"/>
<text class="il" y="9"><tspan class="ib" x="-73">i</tspan><tspan class="ib" x="-59">=</tspan><tspan class="id" x="-36">7</tspan></text>
<text class="lb" x="-21" y="52">string</text>
<text class="lb" x="-18" y="116">pattern</text>
<g class="n"><text x="29" y="9">0</text><text x="97.8" y="9">1</text><text x="166.6" y="9">2</text><text x="235.4" y="9">3</text><text x="304.2" y="9">4</text><text x="373" y="9">5</text><text x="441.8" y="9">6</text><text x="510.6" y="9">7</text><text x="579.4" y="9">8</text><text x="648.2" y="9">9</text><text x="717" y="9">10</text><text x="785.8" y="9">11</text><text x="854.6" y="9">12</text><text x="923.4" y="9">13</text><text x="992.2" y="9">14</text><text x="1061" y="9">15</text><text x="1129.8" y="9">16</text><text x="1198.6" y="9">17</text><text x="1267.4" y="9">18</text><text x="1336.2" y="9">19</text></g>
<g class="row" id="step7-string">
<g id="s7-0"><rect class="y" x="0" y="16" width="58" height="58"/><text x="29" y="60">k</text></g>
<g id="s7-1"><rect class="y" x="68.8" y="16" width="58" height="58"/><text x="97.8" y="60">m</text></g>
<g id="s7-2"><rect class="y" x="137.6" y="16" width="58" height="58"/><text x="166.6" y="60">p</text></g>
<g id="s7-3"><rect class="y" x="206.4" y="16" width="58" height="58"/><text x="235.4" y="60">p</text></g>
<g id="s7-4"><rect class="y" x="275.2" y="16" width="58" height="58"/><text x="304.2" y="60">k</text></g>
<g id="s7-5"><rect class="y" x="344" y="16" width="58" height="58"/><text x="373" y="60">m</text></g>
<g id="s7-6"><rect class="y" x="412.8" y="16" width="58" height="58"/><text x="441.8" y="60">p</text></g>
<g id="s7-7"><rect class="g" x="481.6" y="16" width="58" height="58"/><text x="510.6" y="60">k</text></g>
<g id="s7-8"><rect class="g" x="550.4" y="16" width="58" height="58"/><text x="579.4" y="60">m</text></g>
<g id="s7-9"><rect class="g" x="619.2" y="16" width="58" height="58"/><text x="648.2" y="60">p</text></g>
<g id="s7-10"><rect class="g" x="688" y="16" width="58" height="58"/><text x="717" y="60">k</text></g>
<g id="s7-11"><rect class="g" x="756.8" y="16" width="58" height="58"/><text x="785.8" y="60">m</text></g>
<g id="s7-12"><rect class="g" x="825.6" y="16" width="58" height="58"/><text x="854.6" y="60">d</text></g>
<g id="s7-13"><rect class="g" x="894.4" y="16" width="58" height="58"/><text x="923.4" y="60">k</text></g>
<g id="s7-14"><rect class="g" x="963.2" y="16" width="58" height="58"/><text x="992.2" y="60">m</text></g>
<g id="s7-15"><rect class="g" x="1032" y="16" width="58" height="58"/><text x="1061" y="60">p</text></g>
<g id="s7-16"><rect class="g" x="1100.8" y="16" width="58" height="58"/><text x="1129.8" y="60">k</text></g>
<g id="s7-17"><rect class="g" x="1169.6" y="16" width="58" height="58"/><text x="1198.6" y="60">m</text></g>
<g id="s7-18"><rect class="g" x="1238.4" y="16" width="58" height="58"/><text x="1267.4" y="60">p</text></g>
<g id="s7-19"><rect class="g" x="1307.2" y="16" width="58" height="58"/><text x="1336.2" y="60">k</text></g>
</g>
<g class="row" id="step7-pattern">
<g id="p7-7"><rect class="g" x="481.6" y="78" width="58" height="58"/><text x="510.6" y="122">k</text></g>
<g id="p7-8"><rect class="g" x="550.4" y="78" width="58" height="58"/><text x="579.4" y="122">m</text></g>
<g id="p7-9"><rect class="g" x="619.2" y="78" width="58" height="58"/><text x="648.2" y="122">p</text></g>
<g id="p7-10"><rect class="g" x="688" y="78" width="58" height="58"/><text x="717" y="122">k</text></g>
<g id="p7-11"><rect class="g" x="756.8" y="78" width="58" height="58"/><text x="785.8" y="122">m</text></g>
<g id="p7-12"><rect class="g" x="825.6" y="78" width="58" height="58"/><text x="854.6" y="122">d</text></g>
<g id="p7-13"><rect class="g" x="894.4" y="78" width="58" height="58"/><text x="923.4" y="122">k</text></g>
<g id="p7-14"><rect class="g" x="963.2" y="78" width="58" height="58"/><text x="992.2" y="122">m</text></g>
<g id="p7-15"><rect class="g" x="1032" y="78" width="58" height="58"/><text x="1061" y="122">p</text></g>
<g id="p7-16"><rect class="g" x="1100.8" y="78" width="58" height="58"/><text x="1129.8" y="122">k</text></g>
<g id="p7-17"><rect class="g" x="1169.6" y="78" width="58" height="58"/><text x="1198.6" y="122">m</text></g>
<g id="p7-18"><rect class="g" x="1238.4" y="78" width="58" height="58"/><text x="1267.4" y="122">p</text></g>
<g id="p7-19"><rect class="g" x="1307.2" y="78" width="58" height="58"/><text x="1336.2" y="122">k</text></g>
</g>
</g>

<g id="connectors">
<line class="arr" x1="119" y1="681" x2="186" y2="681" marker-end="url(#ah)"/>
<line class="arr" x1="118" y1="883" x2="254" y2="883" marker-end="url(#ah)"/>
<line class="arr" x1="118" y1="1084" x2="323" y2="1084" marker-end="url(#ah)"/>
<line class="arr" x1="113" y1="1283" x2="387" y2="1283" marker-end="url(#ah)"/>
<line class="arr" x1="109" y1="1493" x2="450" y2="1493" marker-end="url(#ah)"/>
<line class="arr" x1="107" y1="1703" x2="518" y2="1703" marker-end="url(#ah)"/>
<line class="arr" x1="105" y1="1919" x2="585" y2="1919" marker-end="url(#ah)"/>
</g>

<g id="notes">
<text x="336" y="1953" font-size="21" fill="#5271ff" text-anchor="middle" textLength="426" lengthAdjust="spacingAndGlyphs" style="fill:#5271ff">always start matching from the beginning</text>
<text x="1046.6" y="1978" font-size="22" text-anchor="middle" textLength="62" lengthAdjust="spacingAndGlyphs" style="fill:#0a8a3c">match</text>
</g>
</svg>
